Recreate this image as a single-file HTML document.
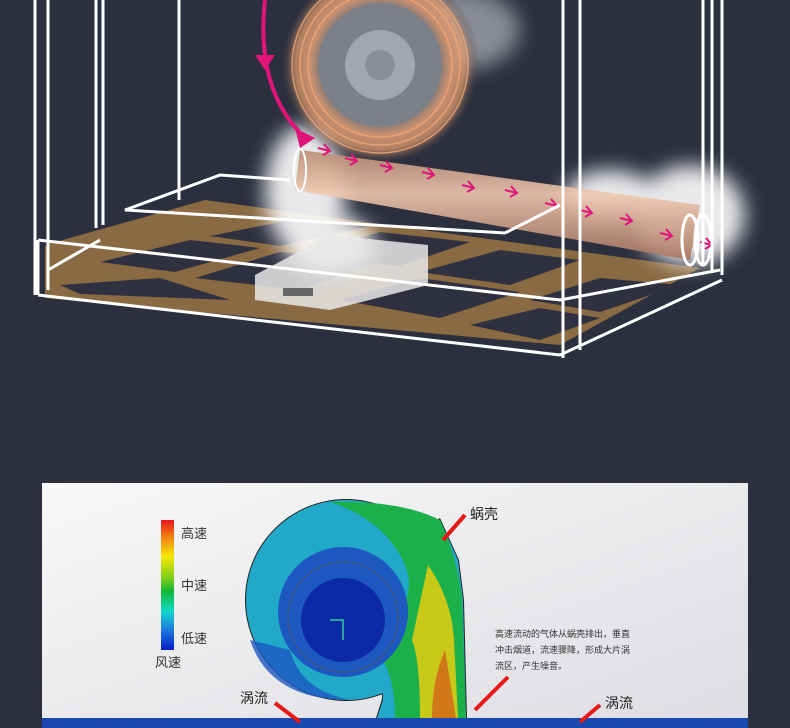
<!DOCTYPE html>
<html><head><meta charset="utf-8"><style>
html,body{margin:0;padding:0;background:#2b2f3e;}
svg{display:block}
text{font-family:"Liberation Sans","Noto Sans CJK SC",sans-serif;}
</style></head><body>
<svg width="790" height="728" viewBox="0 0 790 728" xmlns="http://www.w3.org/2000/svg">
<defs>
<filter id="blur8" x="-50%" y="-50%" width="200%" height="200%"><feGaussianBlur stdDeviation="10"/></filter>
<linearGradient id="pipe" x1="0" y1="0" x2="0" y2="1">
<stop offset="0" stop-color="#b98a72"/><stop offset="0.4" stop-color="#f0c9b0"/><stop offset="1" stop-color="#a77560"/></linearGradient>
<linearGradient id="panel" x1="0" y1="0" x2="1" y2="1">
<stop offset="0" stop-color="#f8f8f8"/><stop offset="1" stop-color="#dcdde2"/></linearGradient>
<linearGradient id="scale" x1="0" y1="0" x2="0" y2="1">
<stop offset="0" stop-color="#e8141a"/><stop offset="0.12" stop-color="#f07a10"/><stop offset="0.28" stop-color="#f5e800"/><stop offset="0.45" stop-color="#7ccc18"/><stop offset="0.55" stop-color="#10b838"/><stop offset="0.7" stop-color="#10d8c8"/><stop offset="0.85" stop-color="#1a78e0"/><stop offset="1" stop-color="#0a1ec8"/></linearGradient>
<radialGradient id="fan" cx="0.5" cy="0.5" r="0.5">
<stop offset="0" stop-color="#9aa0a8"/><stop offset="0.55" stop-color="#6c7078"/><stop offset="0.7" stop-color="#c89070"/><stop offset="0.85" stop-color="#e8a070" stop-opacity="0.7"/><stop offset="1" stop-color="#2b2f3e" stop-opacity="0"/></radialGradient>
</defs>
<rect width="790" height="728" fill="#2b2f3e"/>

<polygon points="45,245 205,200 700,268 560,345 45,298" fill="#8a6a42"/>
<g fill="#2f3140">
<polygon points="100,262 190,240 260,248 175,272"/>
<polygon points="210,236 300,218 370,226 280,246"/>
<polygon points="195,278 280,252 380,262 300,290"/>
<polygon points="300,256 380,232 470,242 400,266"/>
<polygon points="60,285 160,278 230,300 80,294"/>
<polygon points="420,272 500,250 580,260 510,285"/>
<polygon points="340,300 420,278 520,292 440,318"/>
<polygon points="530,300 600,278 680,285 600,312"/>
<polygon points="470,325 540,308 600,318 540,340"/>
</g>

<g fill="#fff" opacity="0.9" filter="url(#blur8)">
<ellipse cx="305" cy="190" rx="40" ry="65"/>
<ellipse cx="330" cy="245" rx="45" ry="30"/>
<ellipse cx="690" cy="215" rx="55" ry="50"/>
<ellipse cx="610" cy="195" rx="45" ry="25"/>
<ellipse cx="460" cy="30" rx="60" ry="40" opacity="0.5"/>
</g>

<circle cx="380" cy="65" r="100" fill="url(#fan)"/>
<circle cx="380" cy="65" r="62" fill="#7c8088"/>
<circle cx="380" cy="65" r="35" fill="#a3a7ad"/>
<circle cx="380" cy="65" r="15" fill="#8a8e95"/>
<g fill="none" stroke="#f0a878" stroke-width="1.5" opacity="0.8">
<circle cx="380" cy="65" r="72"/><circle cx="380" cy="65" r="80"/><circle cx="380" cy="65" r="88"/>
</g>

<polygon points="300,150 700,205 690,260 295,190" fill="url(#pipe)" opacity="0.9"/>
<ellipse cx="300" cy="170" rx="6" ry="21" fill="none" stroke="#fff" stroke-width="2"/>
<ellipse cx="690" cy="240" rx="8" ry="25" fill="none" stroke="#fff" stroke-width="3"/>
<ellipse cx="703" cy="240" rx="8" ry="25" fill="none" stroke="#fff" stroke-width="3"/>

<path d="M265,0 Q255,90 305,138" fill="none" stroke="#e0157a" stroke-width="4"/>
<polygon points="255,55 275,55 265,70" fill="#e0157a"/>
<polygon points="295,128 315,138 300,148" fill="#e0157a"/>
<g fill="none" stroke="#e0157a" stroke-width="2">
<path d="M318,148 l12,3 m-6,-7 l6,7 l-7,4"/>
<path d="M345,158 l12,3 m-6,-7 l6,7 l-7,4"/>
<path d="M380,165 l12,3 m-6,-7 l6,7 l-7,4"/>
<path d="M422,172 l12,3 m-6,-7 l6,7 l-7,4"/>
<path d="M462,185 l12,3 m-6,-7 l6,7 l-7,4"/>
<path d="M505,190 l12,3 m-6,-7 l6,7 l-7,4"/>
<path d="M545,203 l12,3 m-6,-7 l6,7 l-7,4"/>
<path d="M580,210 l12,3 m-6,-7 l6,7 l-7,4"/>
<path d="M620,218 l12,3 m-6,-7 l6,7 l-7,4"/>
<path d="M660,233 l12,3 m-6,-7 l6,7 l-7,4"/>
<path d="M700,242 l12,3 m-6,-7 l6,7 l-7,4"/>
</g>

<polygon points="255,275 330,235 428,245 428,285 330,310 255,300" fill="#e8e8e8" opacity="0.85"/>
<rect x="283" y="288" width="30" height="8" fill="#666"/>

<g fill="none" stroke="#fff" stroke-width="3">
<line x1="35" y1="0" x2="35" y2="295"/><line x1="48" y1="0" x2="48" y2="290"/>
<line x1="96" y1="0" x2="96" y2="228"/><line x1="103" y1="0" x2="103" y2="225"/>
<line x1="179" y1="0" x2="179" y2="200"/>
<line x1="563" y1="0" x2="563" y2="358"/><line x1="580" y1="0" x2="580" y2="350"/>
<line x1="703" y1="0" x2="703" y2="265"/><line x1="712" y1="0" x2="712" y2="270"/><line x1="722" y1="0" x2="722" y2="275"/>
<polyline points="290,180 220,175 125,210 505,233"/>
<line x1="505" y1="233" x2="560" y2="205"/>
<polyline points="38,240 560,300 720,270"/>
<polyline points="38,295 560,355 722,280"/>
<line x1="38" y1="240" x2="38" y2="295"/>
<line x1="48" y1="270" x2="100" y2="240"/>
</g>

<rect x="42" y="483" width="706" height="245" fill="url(#panel)"/>
<rect x="42" y="718" width="706" height="10" fill="#1848b0"/>
<rect x="161" y="520" width="13" height="130" fill="url(#scale)"/>
<text x="181" y="538" font-size="13" fill="#333">高速</text>
<text x="181" y="590" font-size="13" fill="#333">中速</text>
<text x="181" y="643" font-size="13" fill="#333">低速</text>
<text x="155" y="667" font-size="13" fill="#333">风速</text>

<!-- volute -->
<circle cx="346" cy="600" r="101" fill="#222"/>
<polygon points="380,560 440,518 459,560 464,600 467,718 376,718 382,699" fill="#222"/>
<circle cx="346" cy="600" r="100" fill="#22a8c8"/>
<polygon points="381,561 440,520 458,560 463,600 466,718 377,718 383,700" fill="#22a8c8"/>
<path d="M330,502 Q400,500 440,520 Q458,560 462,600 L466,718 L395,718 Q395,670 375,650 Q420,600 405,565 Q385,520 330,502Z" fill="#1cb04a"/>
<path d="M428,565 Q452,600 454,640 L458,718 L420,718 Q420,660 412,640 Z" fill="#c8c818"/>
<path d="M445,650 L456,718 L432,718 Q432,680 445,650Z" fill="#d07818"/>
<path d="M250,640 Q270,700 350,700 Q300,690 290,650Z" fill="#1c58c0" opacity="0.8"/>
<circle cx="343" cy="612" r="65" fill="#1c58c0"/>
<circle cx="343" cy="617" r="55" fill="none" stroke="#555" stroke-width="1.5" stroke-dasharray="2,2"/>
<circle cx="343" cy="620" r="42" fill="#0c2aa8"/>
<path d="M330,620 L343,620 L343,640" fill="none" stroke="#3c9" stroke-width="1.5"/>

<text x="470" y="519" font-size="14" fill="#222">蜗壳</text>
<line x1="465" y1="515" x2="443" y2="540" stroke="#e81818" stroke-width="4"/>
<text x="495" y="637" font-size="9" fill="#333">高速流动的气体从蜗壳排出，垂直</text>
<text x="495" y="653" font-size="9" fill="#333">冲击烟道，流速骤降，形成大片涡</text>
<text x="495" y="669" font-size="9" fill="#333">流区，产生噪音。</text>
<line x1="508" y1="677" x2="475" y2="710" stroke="#e81818" stroke-width="4"/>
<text x="605" y="708" font-size="14" fill="#222">涡流</text>
<line x1="600" y1="705" x2="580" y2="722" stroke="#e81818" stroke-width="4"/>
<text x="240" y="703" font-size="14" fill="#222">涡流</text>
<line x1="275" y1="703" x2="300" y2="722" stroke="#e81818" stroke-width="4"/>
</svg>
</body></html>
